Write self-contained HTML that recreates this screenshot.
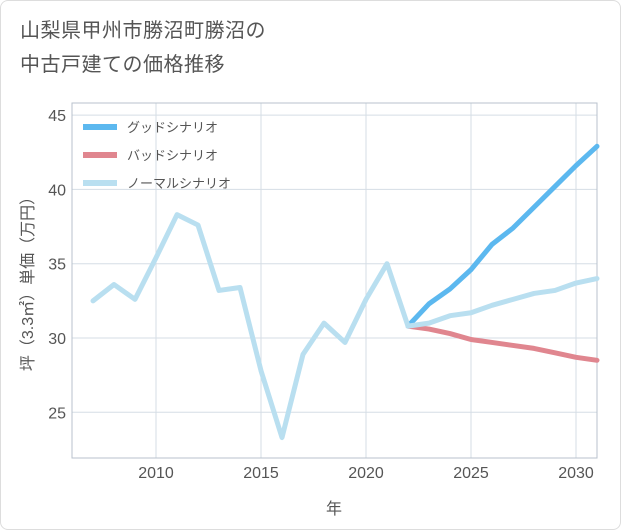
<!DOCTYPE html>
<html><head><meta charset="utf-8">
<style>
body{margin:0;background:#fff;font-family:"Liberation Sans","Noto Sans CJK JP",sans-serif;}
#wrap{position:relative;width:621px;height:530px;background:#fff;}
.card{position:absolute;left:0;top:0;width:619px;height:528px;border:1px solid #ddd;border-radius:8px;}
.title{position:absolute;left:20px;top:14px;font-size:20px;line-height:34px;color:#555;letter-spacing:0.5px;}
svg text{font-family:"Liberation Sans","Noto Sans CJK JP",sans-serif;}
</style></head>
<body>
<div id="wrap">
<div class="card"></div>
<div class="title">山梨県甲州市勝沼町勝沼の<br>中古戸建ての価格推移</div>
<svg id="chart" width="621" height="530" style="position:absolute;left:0;top:0"></svg>
</div>
<script>
const histYears=[2007,2008,2009,2010,2011,2012,2013,2014,2015,2016,2017,2018,2019,2020,2021,2022];
const histValues=[32.5,33.6,32.6,35.4,38.3,37.6,33.2,33.4,27.8,23.3,28.9,31.0,29.7,32.6,35.0,30.8];
const projYears=[2022,2023,2024,2025,2026,2027,2028,2029,2030,2031];
const goodValues=[30.8,32.3,33.3,34.6,36.3,37.4,38.8,40.2,41.6,42.9];
const badValues=[30.8,30.6,30.3,29.9,29.7,29.5,29.3,29.0,28.7,28.5];
const normalValues=[30.8,31.0,31.5,31.7,32.2,32.6,33.0,33.2,33.7,34.0];
const xTicks=[2010,2015,2020,2025,2030];
const yTicks=[25,30,35,40,45];
const legendLabels=["グッドシナリオ","バッドシナリオ","ノーマルシナリオ"];

const NS="http://www.w3.org/2000/svg";
const svg=document.getElementById('chart');
const L=72,R=597,T=103,B=458;
const x=v=>156+(v-2010)*21;
const y=v=>338-(v-30)*14.86;
function mk(tag,attrs,parent){const e=document.createElementNS(NS,tag);for(const k in attrs)e.setAttribute(k,attrs[k]);(parent||svg).appendChild(e);return e;}

const grid=mk('g',{});


xTicks.forEach(t=>{mk('line',{x1:x(t),x2:x(t),y1:T,y2:B,stroke:'#d5dde5','stroke-width':1},grid);
 const tx=mk('text',{x:x(t),y:478,'text-anchor':'middle','font-size':16,fill:'#555'});tx.textContent=t;
 
 });
yTicks.forEach(t=>{mk('line',{x1:L,x2:R,y1:y(t),y2:y(t),stroke:'#d5dde5','stroke-width':1},grid);
 const tx=mk('text',{x:66,y:y(t)+6,'text-anchor':'end','font-size':16,fill:'#555'});tx.textContent=t;
 
 });
const frame=mk('rect',{x:L,y:T,width:R-L,height:B-T,fill:'none',stroke:'#b8c2cc','stroke-width':1});



const xt=mk('text',{x:334,y:514,'text-anchor':'middle','font-size':16,fill:'#555'});xt.textContent='年';


const yt=mk('text',{x:0,y:0,'text-anchor':'middle','font-size':16,fill:'#555',transform:'translate(33,280) rotate(-90)'});yt.textContent='坪（3.3㎡）単価（万円）';



function line(xs,vs,color,name){const p=mk('polyline',{points:xs.map((t,i)=>x(t)+','+y(vs[i])).join(' '),fill:'none',stroke:color,'stroke-width':5,'stroke-linejoin':'round','stroke-linecap':'round'});
 
 }
line(projYears,badValues,'#e0868f','bad-scenario-line');
line(projYears,goodValues,'#5cb8ef','good-scenario-line');
line(projYears,normalValues,'#b9dff0','normal-scenario-line');
line(histYears,histValues,'#b9dff0','historical-line');

const colors=['#5cb8ef','#e0868f','#b9dff0'];
legendLabels.forEach((lab,i)=>{const g=mk('g',{});
 
 
 const yy=127+i*28;
 mk('line',{x1:83,x2:117,y1:yy,y2:yy,stroke:colors[i],'stroke-width':6},g);
 const t=mk('text',{x:127,y:yy+5,'font-size':13,fill:'#555'},g);t.textContent=lab;});
</script>
</body></html>
